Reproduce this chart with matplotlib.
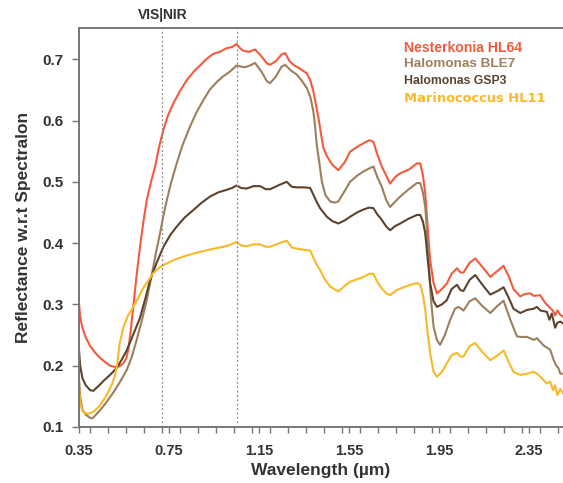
import matplotlib
matplotlib.use("Agg")
import matplotlib.pyplot as plt
from matplotlib.ticker import MultipleLocator, FixedLocator

plt.rcParams['font.family'] = ['Liberation Sans', 'DejaVu Sans']

# ---- data ----
wl_nest = [0.35, 0.355, 0.365, 0.38, 0.40, 0.42, 0.44, 0.465, 0.488, 0.51, 0.53, 0.547, 0.56, 0.569, 0.58,
           0.591, 0.606, 0.621, 0.636, 0.651, 0.67, 0.688, 0.705, 0.725, 0.745, 0.769, 0.80, 0.829, 0.86,
           0.888, 0.915, 0.947, 0.975, 1.006, 1.03, 1.05, 1.065, 1.08, 1.105, 1.132, 1.16, 1.185, 1.199,
           1.225, 1.25, 1.266, 1.285, 1.302, 1.33, 1.362, 1.378, 1.391, 1.403, 1.414, 1.425, 1.436, 1.451,
           1.475, 1.502, 1.53, 1.554, 1.585, 1.614, 1.64, 1.658, 1.675, 1.695, 1.715, 1.732, 1.755, 1.777,
           1.815, 1.851, 1.866, 1.878, 1.888, 1.90, 1.91, 1.925, 1.94, 1.962, 1.984, 2.005, 2.029, 2.045,
           2.058, 2.085, 2.11, 2.14, 2.177, 2.21, 2.236, 2.26, 2.28, 2.31, 2.33, 2.354, 2.37, 2.399, 2.42,
           2.443, 2.455, 2.465, 2.475, 2.488, 2.50]
r_nest = [0.302, 0.28, 0.262, 0.246, 0.232, 0.222, 0.214, 0.206, 0.200, 0.198, 0.199, 0.204, 0.212, 0.226,
          0.258, 0.296, 0.348, 0.394, 0.435, 0.470, 0.500, 0.525, 0.556, 0.585, 0.608, 0.628, 0.649, 0.666,
          0.680, 0.690, 0.700, 0.709, 0.712, 0.718, 0.720, 0.725, 0.718, 0.714, 0.712, 0.716, 0.705, 0.693,
          0.691, 0.697, 0.708, 0.710, 0.697, 0.691, 0.685, 0.677, 0.665, 0.648, 0.625, 0.604, 0.578, 0.555,
          0.542, 0.528, 0.519, 0.532, 0.549, 0.557, 0.563, 0.568, 0.565, 0.545, 0.525, 0.510, 0.497, 0.508,
          0.514, 0.520, 0.530, 0.530, 0.510, 0.481, 0.420, 0.372, 0.335, 0.318, 0.325, 0.334, 0.350, 0.359,
          0.352, 0.352, 0.368, 0.375, 0.362, 0.345, 0.355, 0.363, 0.345, 0.325, 0.313, 0.317, 0.318, 0.314,
          0.315, 0.303, 0.294, 0.290, 0.282, 0.290, 0.283, 0.280]

wl_ble7 = [0.35, 0.355, 0.365, 0.38, 0.40, 0.409, 0.425, 0.445, 0.469, 0.50, 0.528, 0.562, 0.585, 0.606,
           0.63, 0.651, 0.665, 0.68, 0.695, 0.71, 0.725, 0.74, 0.76, 0.784, 0.81, 0.843, 0.87, 0.902, 0.93,
           0.962, 0.99, 1.021, 1.05, 1.07, 1.088, 1.11, 1.132, 1.16, 1.185, 1.199, 1.225, 1.25, 1.266, 1.29,
           1.317, 1.34, 1.362, 1.378, 1.391, 1.399, 1.406, 1.418, 1.429, 1.445, 1.466, 1.485, 1.502, 1.53,
           1.554, 1.585, 1.614, 1.64, 1.658, 1.675, 1.695, 1.715, 1.732, 1.755, 1.777, 1.815, 1.851, 1.866,
           1.878, 1.888, 1.896, 1.903, 1.913, 1.925, 1.94, 1.954, 1.975, 1.999, 2.02, 2.036, 2.058, 2.085,
           2.11, 2.14, 2.177, 2.21, 2.236, 2.266, 2.295, 2.31, 2.34, 2.37, 2.384, 2.414, 2.443, 2.458, 2.47,
           2.48, 2.488, 2.50]
r_ble7 = [0.180, 0.150, 0.128, 0.120, 0.115, 0.114, 0.120, 0.128, 0.139, 0.155, 0.171, 0.193, 0.215, 0.242,
          0.275, 0.307, 0.333, 0.361, 0.390, 0.416, 0.445, 0.470, 0.500, 0.530, 0.560, 0.590, 0.612, 0.633,
          0.650, 0.663, 0.672, 0.680, 0.690, 0.688, 0.687, 0.690, 0.694, 0.680, 0.664, 0.661, 0.672, 0.688,
          0.691, 0.682, 0.675, 0.665, 0.653, 0.638, 0.615, 0.590, 0.561, 0.530, 0.500, 0.478, 0.468, 0.466,
          0.468, 0.485, 0.500, 0.510, 0.517, 0.522, 0.525, 0.508, 0.492, 0.470, 0.459, 0.468, 0.476, 0.488,
          0.498, 0.498, 0.482, 0.459, 0.420, 0.372, 0.310, 0.264, 0.242, 0.234, 0.250, 0.275, 0.293, 0.296,
          0.290, 0.305, 0.310, 0.298, 0.286, 0.298, 0.306, 0.275, 0.248, 0.247, 0.247, 0.242, 0.245, 0.233,
          0.226, 0.210, 0.200, 0.196, 0.187, 0.187]

wl_gsp3 = [0.35, 0.355, 0.365, 0.38, 0.40, 0.414, 0.425, 0.44, 0.458, 0.488, 0.517, 0.54, 0.562, 0.59,
           0.621, 0.645, 0.666, 0.695, 0.725, 0.755, 0.784, 0.82, 0.858, 0.895, 0.932, 0.97, 1.006, 1.03,
           1.05, 1.07, 1.095, 1.125, 1.154, 1.18, 1.199, 1.24, 1.273, 1.295, 1.317, 1.35, 1.377, 1.391,
           1.405, 1.421, 1.451, 1.475, 1.502, 1.53, 1.554, 1.585, 1.614, 1.64, 1.658, 1.675, 1.695, 1.715,
           1.732, 1.755, 1.777, 1.815, 1.851, 1.866, 1.878, 1.888, 1.90, 1.91, 1.925, 1.94, 1.962, 1.984,
           2.005, 2.029, 2.045, 2.058, 2.085, 2.11, 2.14, 2.177, 2.21, 2.236, 2.26, 2.28, 2.31, 2.34, 2.37,
           2.384, 2.40, 2.428, 2.44, 2.45, 2.465, 2.475, 2.488, 2.50]
r_gsp3 = [0.226, 0.200, 0.180, 0.168, 0.160, 0.159, 0.163, 0.168, 0.175, 0.185, 0.196, 0.210, 0.225, 0.250,
          0.278, 0.310, 0.340, 0.368, 0.394, 0.413, 0.427, 0.442, 0.454, 0.466, 0.476, 0.483, 0.487, 0.490,
          0.494, 0.490, 0.489, 0.493, 0.493, 0.488, 0.488, 0.495, 0.500, 0.492, 0.491, 0.491, 0.490, 0.479,
          0.468, 0.457, 0.443, 0.436, 0.432, 0.437, 0.443, 0.450, 0.455, 0.458, 0.457, 0.447, 0.438, 0.427,
          0.421, 0.428, 0.432, 0.440, 0.446, 0.446, 0.435, 0.416, 0.370, 0.334, 0.305, 0.296, 0.300, 0.307,
          0.325, 0.332, 0.323, 0.322, 0.340, 0.348, 0.333, 0.316, 0.322, 0.328, 0.310, 0.293, 0.286, 0.291,
          0.293, 0.296, 0.290, 0.288, 0.275, 0.285, 0.262, 0.270, 0.272, 0.269]

wl_hl11 = [0.35, 0.355, 0.365, 0.38, 0.394, 0.41, 0.439, 0.47, 0.498, 0.51, 0.518, 0.53, 0.547, 0.565,
           0.591, 0.615, 0.636, 0.66, 0.68, 0.71, 0.74, 0.775, 0.813, 0.858, 0.902, 0.95, 0.991, 1.02, 1.05,
           1.07, 1.095, 1.125, 1.154, 1.18, 1.199, 1.24, 1.273, 1.295, 1.317, 1.35, 1.377, 1.391, 1.405,
           1.421, 1.44, 1.466, 1.502, 1.53, 1.554, 1.585, 1.614, 1.64, 1.658, 1.675, 1.695, 1.715, 1.732,
           1.755, 1.777, 1.815, 1.851, 1.866, 1.878, 1.888, 1.90, 1.91, 1.925, 1.94, 1.962, 1.984, 2.005,
           2.029, 2.045, 2.058, 2.085, 2.11, 2.14, 2.177, 2.21, 2.236, 2.26, 2.28, 2.31, 2.34, 2.37, 2.384,
           2.41, 2.428, 2.443, 2.455, 2.465, 2.475, 2.488, 2.50]
r_hl11 = [0.166, 0.140, 0.126, 0.122, 0.122, 0.124, 0.133, 0.150, 0.171, 0.185, 0.198, 0.235, 0.262, 0.280,
          0.296, 0.312, 0.327, 0.340, 0.351, 0.361, 0.367, 0.373, 0.378, 0.383, 0.387, 0.391, 0.394, 0.397,
          0.402, 0.396, 0.395, 0.398, 0.398, 0.394, 0.394, 0.400, 0.404, 0.393, 0.391, 0.389, 0.388, 0.376,
          0.366, 0.356, 0.342, 0.329, 0.321, 0.330, 0.337, 0.341, 0.345, 0.350, 0.350, 0.337, 0.326, 0.318,
          0.315, 0.322, 0.326, 0.331, 0.335, 0.332, 0.315, 0.291, 0.250, 0.220, 0.190, 0.182, 0.190, 0.204,
          0.217, 0.221, 0.215, 0.215, 0.232, 0.237, 0.223, 0.209, 0.217, 0.225, 0.205, 0.190, 0.185, 0.187,
          0.190, 0.187, 0.178, 0.171, 0.174, 0.160, 0.168, 0.152, 0.162, 0.155]

names = ["Nesterkonia HL64", "Halomonas BLE7", "Halomonas GSP3", "Marinococcus HL11"]
colors = ["#f45a3c", "#9d7f5c", "#5b4330", "#f9b928"]
series = [(wl_nest, r_nest), (wl_ble7, r_ble7), (wl_gsp3, r_gsp3), (wl_hl11, r_hl11)]

xticks = [0.35, 0.75, 1.15, 1.55, 1.95, 2.35]
yticks = [0.1, 0.2, 0.3, 0.4, 0.5, 0.6, 0.7]
vis_nir = [0.72, 1.05]

fig = plt.figure(figsize=(5.63, 4.83), dpi=100)
ax = fig.add_axes([79/563, 1-427/483, 1-79/563, (427-28)/483])

for (x, y), c, n in zip(series, colors, names):
    ax.plot(x, y, color=c, lw=1.5, label=n)

for v in vis_nir:
    ax.axvline(v, color="#888888", lw=0.9, ls=(0, (1.5, 2)))

ax.set_xlim(0.35, 2.50)
ax.set_ylim(0.1, 0.751)
ax.xaxis.set_major_locator(FixedLocator(xticks))
ax.xaxis.set_minor_locator(MultipleLocator(0.08))
ax.set_xticklabels([f"{t:.2f}" for t in xticks])
ax.set_yticks(yticks)
ax.set_yticklabels([f"{t:.1f}" for t in yticks])

for s in ["left", "top", "bottom"]:
    ax.spines[s].set_color("#777777")
    ax.spines[s].set_linewidth(1.4)
ax.spines["right"].set_visible(False)

ax.tick_params(axis="both", which="both", direction="out", color="#777777", width=1.0)
ax.tick_params(axis="x", which="major", length=4, labelsize=10.5, pad=8, labelcolor="#333333")
ax.tick_params(axis="x", which="minor", length=4)
ax.tick_params(axis="y", which="major", length=5, labelsize=11, pad=6, labelcolor="#333333")
for lab in ax.get_xticklabels() + ax.get_yticklabels():
    lab.set_fontweight("bold")

ax.set_xlabel("Wavelength (µm)", fontsize=12.5, fontweight="bold", color="#333333", labelpad=4)
ax.set_ylabel("Reflectance w.r.t Spectralon", fontsize=12.5, fontweight="bold", color="#333333", labelpad=8)

ax.text(vis_nir[0], 1.015, "VIS|NIR", transform=ax.get_xaxis_transform(), ha="center", va="bottom",
        fontsize=10, fontweight="bold", color="#333333")

# legend as coloured text lines (no handles)
leg_fonts = [("Liberation Sans", 10.1), ("Liberation Sans", 9.7), ("Liberation Sans", 8.8), ("DejaVu Sans", 9.4)]
leg_y = [47.5, 64, 81.3, 98]
for n, c, (fam, fs), yy in zip(names, colors, leg_fonts, leg_y):
    fig.text(404/563, 1-yy/483, n, color=c, fontsize=fs, fontweight="bold", family=fam,
             ha="left", va="center")

fig.savefig("out.png", dpi=100)
